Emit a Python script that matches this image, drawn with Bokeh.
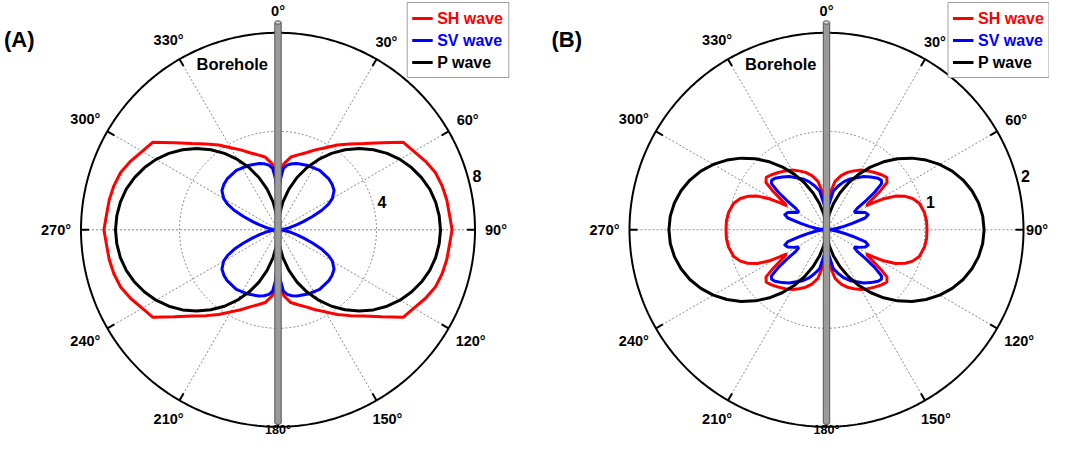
import numpy as np
from bokeh.plotting import figure
from bokeh.models import Range1d
from bokeh.core.properties import value
from bokeh.embed import file_html
from bokeh.resources import INLINE

# ---------------------------------------------------------------------------
# Radiation-pattern amplitudes.
# Angle = degrees clockwise from the borehole axis (0 deg = up).  The patterns are
# mirror-symmetric about the 90-270 line and about the borehole, so 0-90 deg is listed.
# ---------------------------------------------------------------------------

# Panel (A), radial scale 0-8
A_SH_ang = [0, 1, 2, 3, 5, 10, 15, 20, 25, 30, 35, 40, 45, 50, 55, 60, 65, 70, 75, 80, 85, 90]
A_SH_amp = [0, 1.2, 2.0, 2.4, 2.69, 3.0, 3.15, 3.33, 3.58, 3.85, 4.2, 4.55, 4.95, 5.5, 6.2,
            6.37, 6.6, 6.8, 6.9, 6.96, 6.99, 7.07]
A_SV_ang = [0, 1, 2, 3, 5, 8, 12, 16, 25, 35, 45, 50, 55, 60, 63, 66, 69, 72, 75, 80, 85, 90]
A_SV_amp = [0, 1.0, 1.7, 2.1, 2.5, 2.65, 2.74, 2.8, 2.88, 2.95, 2.92, 2.87, 2.78, 2.55, 2.3,
            1.95, 1.5, 1.1, 0.8, 0.45, 0.2, 0]
A_P_ang = [0, 5, 10, 15, 20, 25, 30, 35, 40, 45, 50, 55, 60, 65, 70, 75, 80, 85, 90]
A_P_amp = [0, 0.58, 1.15, 1.71, 2.26, 2.79, 3.30, 3.79, 4.24, 4.67, 5.06, 5.41, 5.72, 5.98,
           6.20, 6.38, 6.50, 6.57, 6.60]
A_RINGS = [4, 8]

# Panel (B), radial scale 0-2
B_SH_ang = [0, 3, 6, 10, 15, 20, 25, 30, 35, 40, 45, 49, 52, 54, 56, 58, 59, 60, 61.5, 64, 67,
            70, 74, 80, 85, 90]
B_SH_amp = [0, 0.22, 0.38, 0.5, 0.57, 0.62, 0.66, 0.7, 0.73, 0.76, 0.79, 0.81, 0.78, 0.68, 0.57,
            0.49, 0.48, 0.55, 0.66, 0.78, 0.87, 0.93, 0.98, 1.01, 1.02, 1.02]
B_SV_ang = [0, 3, 5, 10, 15, 20, 25, 30, 35, 40, 45, 48, 50, 52, 53.5, 55, 57, 59, 62, 66, 70,
            73, 76, 79, 82, 85, 88, 90]
B_SV_amp = [0, 0.15, 0.25, 0.4, 0.46, 0.52, 0.57, 0.61, 0.66, 0.7, 0.74, 0.75, 0.73, 0.62, 0.5,
            0.38, 0.34, 0.34, 0.38, 0.43, 0.45, 0.41, 0.27, 0.18, 0.11, 0.06, 0.02, 0]
B_P_ang = [0, 5, 10, 15, 20, 25, 30, 35, 40, 45, 50, 55, 60, 65, 70, 75, 80, 85, 90]
B_P_amp = [0, 0.067, 0.164, 0.276, 0.397, 0.522, 0.650, 0.777, 0.901, 1.020, 1.132, 1.234,
           1.327, 1.408, 1.476, 1.529, 1.568, 1.592, 1.6]
B_RINGS = [1, 2]

ANGLE_TICKS = [0, 30, 60, 90, 120, 150, 180, 210, 240, 270, 300, 330]
SERIES_NAMES = ["SH wave", "SV wave", "P wave"]
SERIES_COLORS = ["#ff0000", "#0000ff", "#000000"]
PANEL_TAGS = ["(A)", "(B)"]
BOREHOLE_LABEL = "Borehole"

# ---------------------------------------------------------------------------
FONT = value("Liberation Sans")
W, H = 1049, 438
p = figure(width=W, height=H, x_range=Range1d(0, W), y_range=Range1d(H, 0),
           output_backend="svg", toolbar_location=None, min_border=0,
           x_axis_location=None, y_axis_location=None)
p.grid.visible = False
p.outline_line_color = None


def full_curve(theta, r):
    th = np.asarray(theta, float)
    rr = np.asarray(r, float)
    th2 = np.concatenate([th, 180.0 - th[::-1][1:]])
    r2 = np.concatenate([rr, rr[::-1][1:]])
    th3 = np.concatenate([th2, 360.0 - th2[::-1][1:]])
    r3 = np.concatenate([r2, r2[::-1][1:]])
    return th3, r3


panels = [
    dict(cx=277.5, cy=229.3, R=197.0, rmax=8, rings=A_RINGS, tag=PANEL_TAGS[0], tag_x=3.5,
         series=[(A_SH_ang, A_SH_amp), (A_SV_ang, A_SV_amp), (A_P_ang, A_P_amp)],
         lx=406.7, lw=101.6),
    dict(cx=826.0, cy=229.3, R=197.0, rmax=2, rings=B_RINGS, tag=PANEL_TAGS[1], tag_x=551.0,
         series=[(B_SH_ang, B_SH_amp), (B_SV_ang, B_SV_amp), (B_P_ang, B_P_amp)],
         lx=947.5, lw=101.0),
]

GRID = "#8a8a8a"
LAB_FS = 14.5
t = np.radians(np.arange(0, 361, 1.0))

for pn in panels:
    cx, cy, R = pn["cx"], pn["cy"], pn["R"]
    k = R / pn["rmax"]

    # dotted inner ring(s)
    for rv in pn["rings"][:-1]:
        rr = rv * k
        p.line(cx + rr * np.sin(t), cy - rr * np.cos(t), line_color=GRID,
               line_dash="2 2", line_width=1)
    # dotted spokes
    xs, ys = [], []
    for a in ANGLE_TICKS:
        ar = np.radians(a)
        xs.append([cx, cx + (R - 1) * np.sin(ar)])
        ys.append([cy, cy - (R - 1) * np.cos(ar)])
    p.multi_line(xs, ys, line_color=GRID, line_dash="2 2", line_width=1)
    # outer circle
    p.line(cx + R * np.sin(t), cy - R * np.cos(t), line_color="black", line_width=2)
    # tick marks
    txs, tys = [], []
    for a in ANGLE_TICKS:
        ar = np.radians(a)
        txs.append([cx + (R - 8) * np.sin(ar), cx + R * np.sin(ar)])
        tys.append([cy - (R - 8) * np.cos(ar), cy - R * np.cos(ar)])
    p.multi_line(txs, tys, line_color="black", line_width=2)

    # curves
    for (ang, amp), col in zip(pn["series"], SERIES_COLORS):
        th, rr = full_curve(ang, amp)
        thr = np.radians(th)
        p.line(cx + rr * k * np.sin(thr), cy - rr * k * np.cos(thr), line_color=col,
               line_width=3, line_join="round")

    # borehole
    bt, bb, hw = 22.0, 422.0, 3.2
    p.ellipse(x=[cx], y=[bb], width=2 * hw, height=4, fill_color="#9a9a9a",
              line_color="#555555", line_width=1)
    p.quad(left=[cx - hw], right=[cx + hw], top=[bt], bottom=[bb], fill_color="#9a9a9a",
           line_color=None)
    p.segment(x0=[cx - hw, cx + hw], x1=[cx - hw, cx + hw], y0=[bt, bt], y1=[bb, bb],
              line_color="#555555", line_width=1)
    p.ellipse(x=[cx], y=[bt], width=2 * hw, height=3.5, fill_color="#d0d0d0",
              line_color="#555555", line_width=1)

    # angle labels
    lxs, lys, labs = [], [], []
    bx, by, blab = [], [], []
    for a in ANGLE_TICKS:
        lab = f"{a}\u00b0"
        w = (0.556 * (len(lab) - 1) + 0.4) * LAB_FS
        ar = np.radians(a)
        d = R + 10 + abs(np.sin(ar)) * w / 2 + abs(np.cos(ar)) * 5
        x = cx + d * np.sin(ar)
        y = cy - d * np.cos(ar)
        x = min(x, W - 1.5 - w / 2)
        if a == 0:
            y = 10.5
        if a == 180:
            bx.append(x); by.append(429.5); blab.append(lab)
            continue
        lxs.append(x); lys.append(y); labs.append(lab)
    p.text(x=lxs, y=lys, text=labs, text_font=FONT, text_font_style="bold",
           text_font_size=f"{LAB_FS}px", text_align="center", text_baseline="middle",
           text_color="black")
    p.text(x=bx, y=by, text=blab, text_font=FONT, text_font_style="bold",
           text_font_size="12.5px", text_align="center", text_baseline="middle",
           text_color="black")

    # ring value labels (at 75 deg)
    ar = np.radians(75)
    rx = [cx + (rv * k + 9) * np.sin(ar) for rv in pn["rings"]]
    ry = [cy - (rv * k + 9) * np.cos(ar) for rv in pn["rings"]]
    p.text(x=rx, y=ry, text=[str(rv) for rv in pn["rings"]], text_font=FONT,
           text_font_style="bold", text_font_size="16px", text_align="center",
           text_baseline="middle", text_color="black")

    # Borehole label
    p.text(x=[cx - 10], y=[63], text=[BOREHOLE_LABEL], text_font=FONT, text_font_style="bold",
           text_font_size="16.5px", text_align="right", text_baseline="middle",
           text_color="black")

    # panel tag
    p.text(x=[pn["tag_x"]], y=[38.5], text=[pn["tag"]], text_font=FONT, text_font_style="bold",
           text_font_size="22px", text_align="left", text_baseline="middle", text_color="black")

    # legend
    lx, lw = pn["lx"], pn["lw"]
    p.quad(left=[lx], right=[lx + lw], top=[2], bottom=[77], fill_color="white",
           line_color="#a0a0a0", line_width=1)
    rows = [18, 40, 62]
    p.segment(x0=[lx + 5] * 3, x1=[lx + 25.5] * 3, y0=rows, y1=rows,
              line_color=SERIES_COLORS, line_width=3)
    p.text(x=[lx + 30] * 3, y=rows, text=SERIES_NAMES, text_font=FONT, text_font_style="bold",
           text_font_size="16px", text_align="left", text_baseline="middle",
           text_color=SERIES_COLORS)

open("out.html", "w").write(file_html(p, INLINE))
